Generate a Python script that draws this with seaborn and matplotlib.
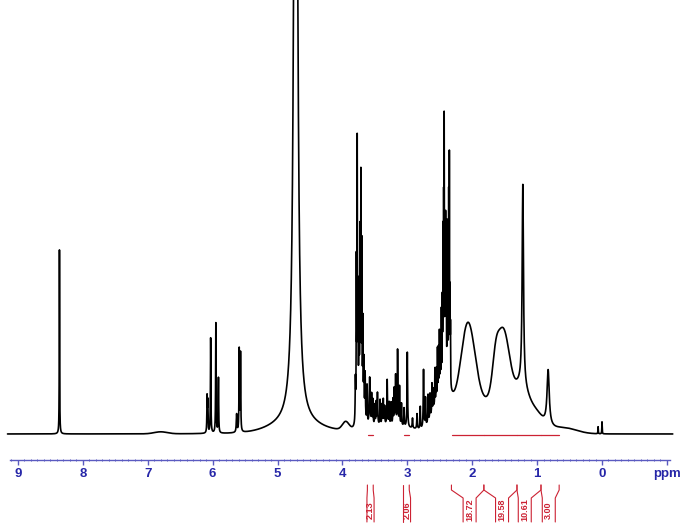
import numpy as np
import pandas as pd
import seaborn as sns
import matplotlib.pyplot as plt
from matplotlib.ticker import FixedLocator

# sharp lines (Lorentzian): ppm, height, half-width
sharp_ppm = [8.36, 6.085, 6.075, 6.03, 5.95, 5.91, 5.63, 5.59, 5.57, 4.72,
             3.80, 3.785, 3.772, 3.76, 3.745, 3.73, 3.715, 3.70, 3.685, 3.67, 3.65,
             3.62, 3.58, 3.55, 3.53, 3.50, 3.48, 3.46, 3.42, 3.39, 3.37, 3.35,
             3.31, 3.28, 3.25, 3.22, 3.20, 3.18, 3.15, 3.12, 3.09, 3.05, 3.00,
             2.92, 2.85, 2.80, 2.75, 2.72, 2.68, 2.65, 2.62,
             2.60, 2.575, 2.555, 2.535, 2.52, 2.505, 2.49, 2.475, 2.46, 2.45, 2.44,
             2.432, 2.42, 2.41, 2.40, 2.385, 2.375, 2.362, 2.352, 2.342, 2.335,
             1.22, 0.83, 0.06, 0.0]
sharp_height = [184, 35, 30, 95, 110, 55, 18, 82, 78, 1200,
                40, 150, 265, 100, 110, 160, 215, 150, 80, 50, 45,
                38, 48, 30, 25, 20, 22, 32, 25, 20, 25, 18,
                45, 22, 22, 25, 35, 48, 75, 38, 22, 18, 75,
                10, 15, 22, 58, 28, 28, 25, 30,
                20, 35, 30, 45, 42, 55, 50, 70, 75, 140, 160,
                245, 130, 150, 140, 150, 110, 180, 220, 85, 55,
                200, 55, 7, 12]
sharp_width = [0.003, 0.004, 0.004, 0.004, 0.004, 0.004, 0.006, 0.004, 0.004, 0.025,
               0.004, 0.003, 0.003, 0.003, 0.003, 0.003, 0.003, 0.003, 0.003, 0.004, 0.005,
               0.004, 0.007, 0.004, 0.004, 0.004, 0.004, 0.005, 0.004, 0.004, 0.004, 0.004,
               0.005, 0.004, 0.004, 0.004, 0.004, 0.004, 0.005, 0.004, 0.004, 0.004, 0.005,
               0.005, 0.005, 0.004, 0.005, 0.004, 0.004, 0.004, 0.004,
               0.0025, 0.0025, 0.0025, 0.0025, 0.0025, 0.0025, 0.0025, 0.0025, 0.0025, 0.0025, 0.0025,
               0.0025, 0.0025, 0.0025, 0.0025, 0.0025, 0.0025, 0.0025, 0.0025, 0.0025, 0.0025,
               0.012, 0.02, 0.003, 0.003]

# broad humps (Gaussian): ppm, height, sigma
broad_ppm = [6.8, 4.72, 3.95, 3.72, 3.3, 2.45, 2.07, 1.85, 1.64, 1.52, 1.25, 1.08, 0.6]
broad_height = [2, 10, 8, 30, 8, 45, 88, 30, 20, 88, 30, 24, 6]
broad_sigma = [0.1, 0.35, 0.05, 0.04, 0.4, 0.12, 0.11, 0.3, 0.045, 0.11, 0.09, 0.15, 0.2]

# integrals
int_start = [3.615, 3.06, 2.32, 1.82, 1.31, 0.94]
int_end = [3.525, 2.97, 1.82, 1.31, 0.94, 0.66]
int_label_pos = [3.567, 3.005, 2.04, 1.54, 1.19, 0.82]
int_values = ['2.13', '2.06', '18.72', '19.58', '10.61', '3.00']

tick_pos = [9, 8, 7, 6, 5, 4, 3, 2, 1, 0, -1]
tick_labels = ['9', '8', '7', '6', '5', '4', '3', '2', '1', '0', 'ppm']

ppm = np.linspace(9.16, -1.09, 20501)
intensity = np.zeros_like(ppm)
for c, h, w in zip(sharp_ppm, sharp_height, sharp_width):
    intensity += h / (1 + ((ppm - c) / w) ** 2)
for c, h, s in zip(broad_ppm, broad_height, broad_sigma):
    intensity += h * np.exp(-(ppm - c) ** 2 / (2 * s ** 2))
df = pd.DataFrame({'ppm': ppm, 'intensity': intensity})

sns.set_style('white')
plt.rcParams['font.family'] = ['Liberation Sans', 'DejaVu Sans']

fig = plt.figure(figsize=(6.8, 5.32), dpi=100)
ax = fig.add_axes([0, 0, 1, 1])

sns.lineplot(data=df, x='ppm', y='intensity', color='black', lw=1.2,
             estimator=None, sort=False, ax=ax)

red = '#cc2233'
blue = '#2626a8'

# integral lines and brackets
for a, b, c, v in zip(int_start, int_end, int_label_pos, int_values):
    ax.plot([a - 0.005, b + 0.005], [-1, -1], color=red, lw=0.9)
    hw = min(0.1, max(0.055, (a - b) / 2))
    ax.plot([a, a, c + hw, c + hw], [-51, -56, -64, -88], color=red, lw=0.8)
    ax.plot([b, b, c - hw, c - hw], [-51, -56, -64, -88], color=red, lw=0.8)
    ax.text(c, -76, v, rotation=90, ha='center', va='center',
            color=red, fontsize=6.5, fontweight='bold')

ax.set_xlim(9.276, -1.202)
ax.set_ylim(-98, 434)
ax.set_xlabel('')
ax.set_ylabel('')
ax.set_yticks([])
for s in ['top', 'left', 'right']:
    ax.spines[s].set_visible(False)
ax.spines['bottom'].set_position(('data', -26))
ax.spines['bottom'].set_bounds(9.12, -1.05)
ax.spines['bottom'].set_color('#5a5ac0')
ax.spines['bottom'].set_linewidth(1.0)

ax.set_xticks(tick_pos)
ax.set_xticklabels(tick_labels, fontweight='bold', fontsize=9.5, color=blue)
ax.xaxis.set_minor_locator(FixedLocator([round(t, 1) for t in np.arange(9.1, -1.05, -0.1)]))
ax.tick_params(axis='x', which='major', direction='out', length=3.5, width=1,
               color='#5a5ac0', pad=2.5, bottom=True)
ax.tick_params(axis='x', which='minor', direction='inout', length=2, width=0.7,
               color='#5a5ac0', bottom=True)

fig.savefig('out.png', dpi=100)
